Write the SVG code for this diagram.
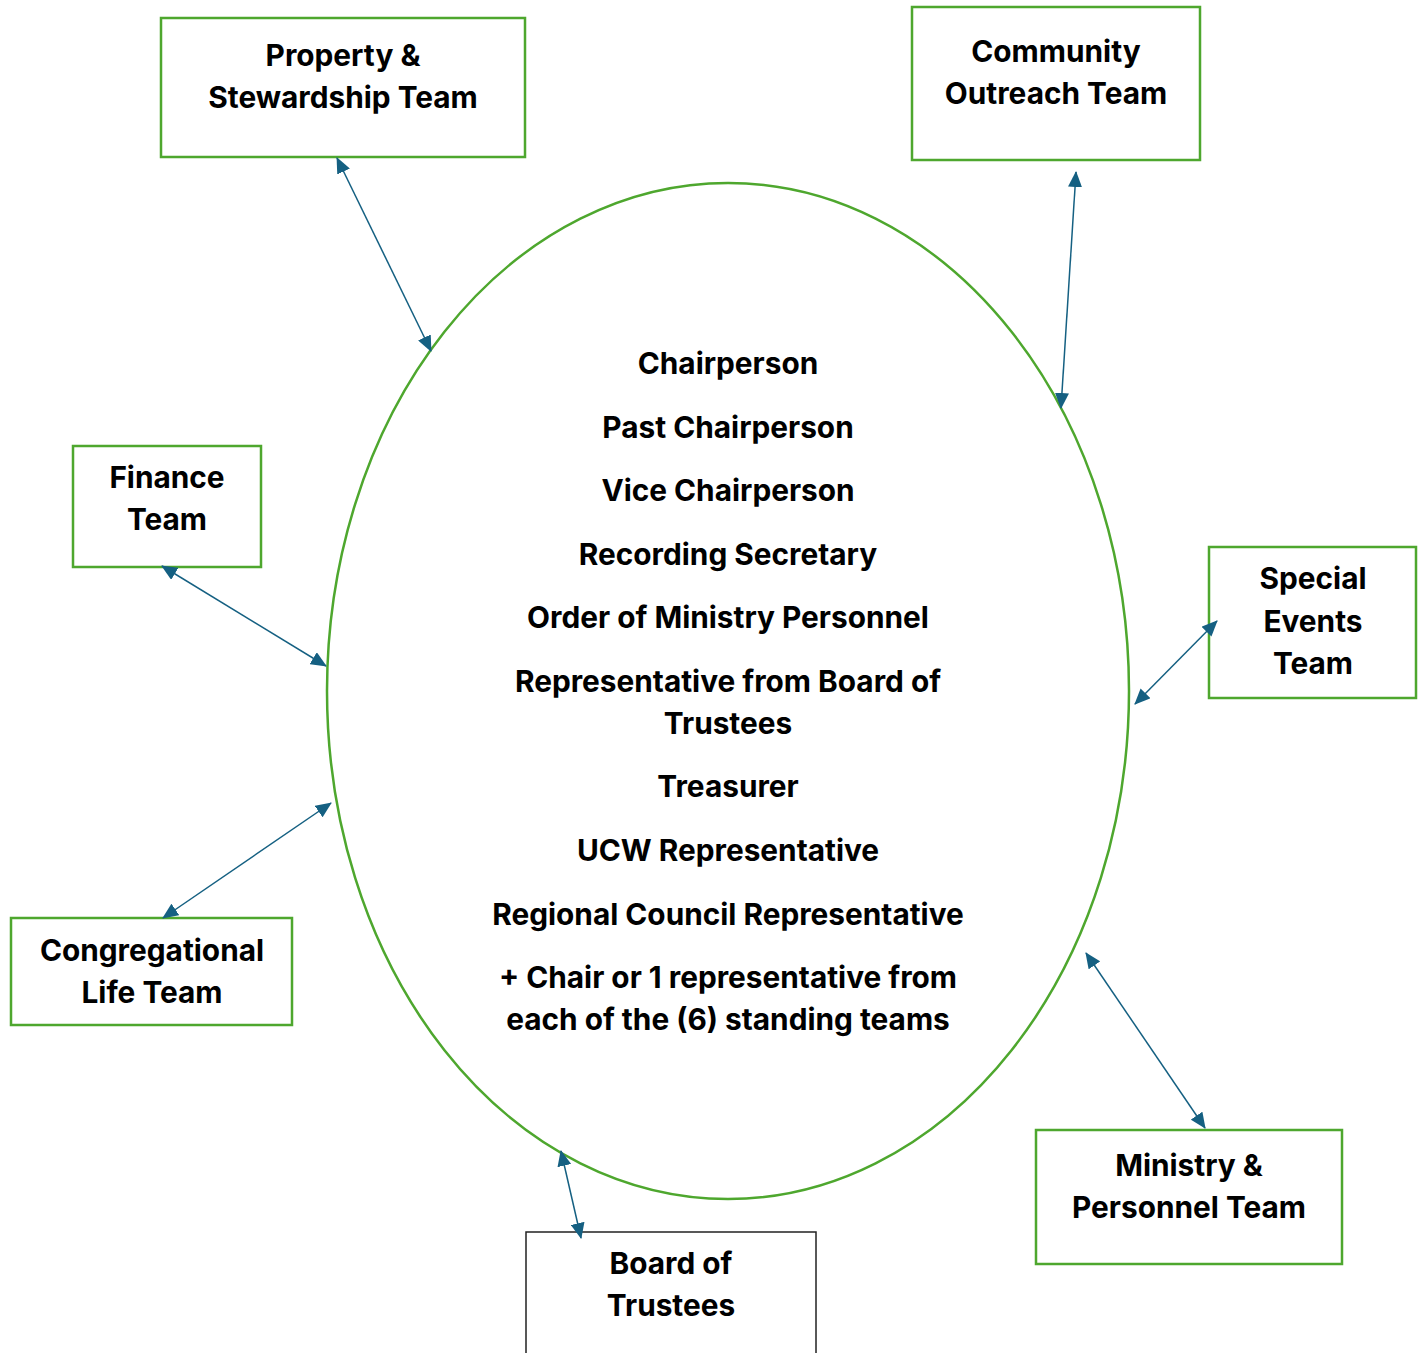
<svg xmlns="http://www.w3.org/2000/svg" width="1423" height="1353" viewBox="0 0 1423 1353">
<style>
.box{fill:#fff;stroke:#4ea72e;stroke-width:2.5}
.bk{fill:#fff;stroke:#222;stroke-width:1.5}
.t{font-family:Inter,"Liberation Sans",sans-serif;font-weight:700;font-size:29.8px;fill:#000;text-anchor:middle;dominant-baseline:central}
.c{stroke:#156082;stroke-width:1.5;fill:none;marker-start:url(#ah);marker-end:url(#ah)}
</style>
<defs>
<marker id="ah" viewBox="0 0 16 14" refX="15" refY="7" markerWidth="16" markerHeight="14" markerUnits="userSpaceOnUse" orient="auto-start-reverse">
<path d="M0,0 L16,7 L0,14 Z" fill="#156082"/>
</marker>
</defs>
<rect width="1423" height="1353" fill="#fff"/>
<g id="council">
<ellipse cx="728" cy="691" rx="401" ry="508" fill="#fff" stroke="#4ea72e" stroke-width="2.5"/>
<text class="t" x="728" y="363">Chairperson</text>
<text class="t" x="728" y="427">Past Chairperson</text>
<text class="t" x="728" y="490">Vice Chairperson</text>
<text class="t" x="728" y="554">Recording Secretary</text>
<text class="t" x="728" y="617">Order of Ministry Personnel</text>
<text class="t" x="728" y="681">Representative from Board of</text>
<text class="t" x="728" y="723">Trustees</text>
<text class="t" x="728" y="786">Treasurer</text>
<text class="t" x="728" y="850">UCW Representative</text>
<text class="t" x="728" y="914">Regional Council Representative</text>
<text class="t" x="728" y="977">+ Chair or 1 representative from</text>
<text class="t" x="728" y="1019">each of the (6) standing teams</text>
</g>
<g id="property">
<rect class="box" x="161" y="18" width="364" height="139"/>
<text class="t" x="343" y="55">Property &amp;</text>
<text class="t" x="343" y="97">Stewardship Team</text>
</g>
<g id="community">
<rect class="box" x="912" y="7" width="288" height="153"/>
<text class="t" x="1056" y="51">Community</text>
<text class="t" x="1056" y="93">Outreach Team</text>
</g>
<g id="finance">
<rect class="box" x="73" y="446" width="188" height="121"/>
<text class="t" x="167" y="477">Finance</text>
<text class="t" x="167" y="519">Team</text>
</g>
<g id="special">
<rect class="box" x="1209" y="547" width="207" height="151"/>
<text class="t" x="1313" y="578">Special</text>
<text class="t" x="1313" y="621">Events</text>
<text class="t" x="1313" y="663">Team</text>
</g>
<g id="congregational">
<rect class="box" x="11" y="918" width="281" height="107"/>
<text class="t" x="152" y="950">Congregational</text>
<text class="t" x="152" y="992">Life Team</text>
</g>
<g id="ministry">
<rect class="box" x="1036" y="1130" width="306" height="134"/>
<text class="t" x="1189" y="1165">Ministry &amp;</text>
<text class="t" x="1189" y="1207">Personnel Team</text>
</g>
<g id="trustees">
<rect class="bk" x="526" y="1232" width="290" height="140"/>
<text class="t" x="671" y="1263">Board of</text>
<text class="t" x="671" y="1305">Trustees</text>
</g>
<g id="connectors">
<line class="c" x1="337" y1="158" x2="431" y2="351"/>
<line class="c" x1="1076" y1="172" x2="1061" y2="408"/>
<line class="c" x1="162" y1="566" x2="326" y2="666"/>
<line class="c" x1="1217" y1="621" x2="1135" y2="704"/>
<line class="c" x1="163" y1="918" x2="331" y2="803"/>
<line class="c" x1="1086" y1="953" x2="1205" y2="1128"/>
<line class="c" x1="561" y1="1151" x2="581" y2="1238"/>
</g>
</svg>
